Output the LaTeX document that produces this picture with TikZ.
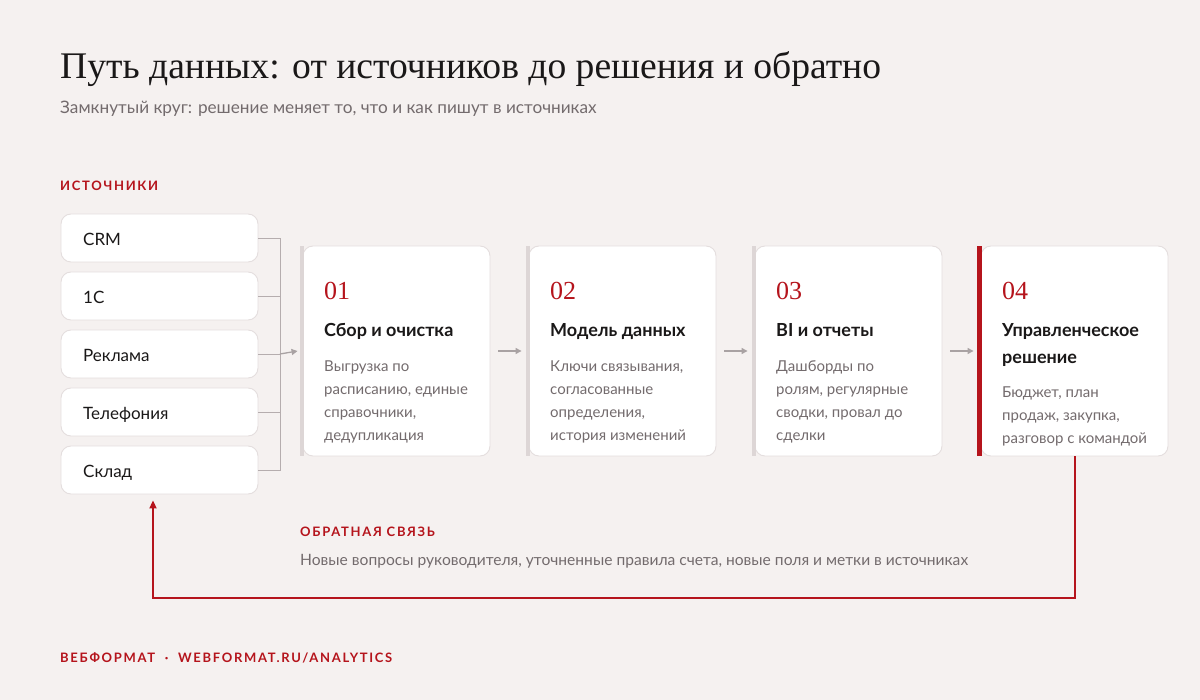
\documentclass[tikz,border=0pt]{standalone}
\usepackage{fontspec}
\setmainfont{Liberation Serif}
\setsansfont{Lato}
\newfontfamily\lato{Lato}
\newfontfamily\latosp[LetterSpace=13]{Lato}
\newfontfamily\serifd{Liberation Serif}
\usetikzlibrary{arrows.meta}
\definecolor{bg}{HTML}{F5F1F0}
\definecolor{accent}{HTML}{B5141C}
\definecolor{boxline}{HTML}{E4DEDE}
\definecolor{barcol}{HTML}{DDD6D6}
\definecolor{arrowgray}{HTML}{A9A2A3}
\definecolor{brkgray}{HTML}{B5ADAE}
\definecolor{txtgray}{HTML}{736B6D}
\definecolor{ink}{HTML}{1A1818}
\tikzset{
  srcbox/.style={draw=boxline, fill=white, rounded corners=10pt, line width=0.9pt, minimum width=197pt, minimum height=48pt, inner sep=0pt},
  cardbox/.style={draw=boxline, fill=white, rounded corners=10pt, line width=0.9pt, minimum width=187pt, minimum height=210pt, inner sep=0pt},
  srctext/.style={anchor=base west, inner sep=0pt, text=ink, font=\lato\fontsize{17}{20}\selectfont},
  numtext/.style={anchor=base west, inner sep=0pt, text=accent, font=\serifd\fontsize{26}{28}\selectfont},
  headtext/.style={anchor=base west, inner sep=0pt, text=ink, font=\lato\bfseries\fontsize{18}{27}\selectfont},
  desctext/.style={anchor=base west, inner sep=0pt, text=txtgray, font=\lato\fontsize{15}{23}\selectfont},
  labeltext/.style={anchor=base west, inner sep=0pt, text=accent, font=\latosp\bfseries\fontsize{13}{16}\selectfont},
  arr/.style={draw=arrowgray, line width=1.3pt, -{Triangle[length=6pt,width=6pt]}},
  brk/.style={draw=brkgray, line width=0.9pt},
  fb/.style={draw=accent, line width=2pt, -{Triangle[length=8pt,width=7pt]}},
}
\begin{document}
\begin{tikzpicture}[x=1pt,y=-1pt]
\fill[bg] (0,0) rectangle (1200,700);
\useasboundingbox (0,0) rectangle (1200,700);

% title
\node[anchor=base west, inner sep=0pt, text=ink, font=\serifd\fontsize{37.6}{42}\selectfont] (title) at (60,79) {Путь данных: от источников до решения и обратно};
\node[anchor=base west, inner sep=0pt, text=txtgray, font=\lato\fontsize{17.2}{20}\selectfont] (subtitle) at (60,114) {Замкнутый круг: решение меняет то, что и как пишут в источниках};

\node[labeltext] (srclabel) at (60,191) {ИСТОЧНИКИ};

% sources
\node[srcbox] (s1) at (159.5,238) {};
\node[srcbox] (s2) at (159.5,296) {};
\node[srcbox] (s3) at (159.5,354) {};
\node[srcbox] (s4) at (159.5,412) {};
\node[srcbox] (s5) at (159.5,470) {};
\node[srctext] (t1) at (83,246) {CRM};
\node[srctext] (t2) at (83,304) {1С};
\node[srctext] (t3) at (83,362) {Реклама};
\node[srctext] (t4) at (83,420) {Телефония};
\node[srctext] (t5) at (83,478) {Склад};

% bracket
\coordinate (hub) at (280,354);
\draw[brk] (s1.east) -| (hub);
\draw[brk] (s2.east) -| (hub);
\draw[brk] (s3.east) -- (hub);
\draw[brk] (s4.east) -| (hub);
\draw[brk] (s5.east) -| (hub);

% cards
\node[cardbox] (c1) at (396.5,351) {};
\node[cardbox] (c2) at (622.5,351) {};
\node[cardbox] (c3) at (848.5,351) {};
\node[cardbox] (c4) at (1074.5,351) {};
\fill[barcol] ([xshift=-3pt]c1.north west) rectangle ([xshift=1pt]c1.south west);
\fill[barcol] ([xshift=-3pt]c2.north west) rectangle ([xshift=1pt]c2.south west);
\fill[barcol] ([xshift=-3pt]c3.north west) rectangle ([xshift=1pt]c3.south west);
\fill[accent] ([xshift=-3.5pt]c4.north west) rectangle ([xshift=1pt]c4.south west);

\draw[arr] (hub) -- ([xshift=-5pt]c1.west);
\draw[arr] ([xshift=8pt]c1.east) -- ([xshift=-7pt]c2.west);
\draw[arr] ([xshift=8pt]c2.east) -- ([xshift=-7pt]c3.west);
\draw[arr] ([xshift=8pt]c3.east) -- ([xshift=-7pt]c4.west);

% card 1
\node[numtext] (n1) at (324,300) {01};
\node[headtext] (h1) at (324,337) {Сбор и очистка};
\node[desctext] (d1) at (324,372) {\parbox[t]{170pt}{\raggedright Выгрузка по\\расписанию, единые\\справочники,\\дедупликация}};
% card 2
\node[numtext] (n2) at (550,300) {02};
\node[headtext] (h2) at (550,337) {Модель данных};
\node[desctext] (d2) at (550,372) {\parbox[t]{170pt}{\raggedright Ключи связывания,\\согласованные\\определения,\\история изменений}};
% card 3
\node[numtext] (n3) at (776,300) {03};
\node[headtext] (h3) at (776,337) {BI и отчеты};
\node[desctext] (d3) at (776,372) {\parbox[t]{170pt}{\raggedright Дашборды по\\ролям, регулярные\\сводки, провал до\\сделки}};
% card 4
\node[numtext] (n4) at (1002,300) {04};
\node[headtext] (h4) at (1002,337) {\parbox[t]{170pt}{\raggedright Управленческое\\решение}};
\node[desctext] (d4) at (1002,398) {\parbox[t]{170pt}{\raggedright Бюджет, план\\продаж, закупка,\\разговор с командой}};

% feedback
\coordinate (fbcorner) at (153,598);
\draw[fb] (c4.south) |- (fbcorner) -- ([xshift=-6.5pt,yshift=-6pt]s5.south);
\node[labeltext] (fblabel) at (300,536) {ОБРАТНАЯ СВЯЗЬ};
\node[anchor=base west, inner sep=0pt, text=txtgray, font=\lato\fontsize{15.6}{20}\selectfont] (fbtext) at (300,565) {Новые вопросы руководителя, уточненные правила счета, новые поля и метки в источниках};

% footer
\node[labeltext] (footer) at (60,662) {ВЕБФОРМАТ \ · \ WEBFORMAT.RU/ANALYTICS};
\end{tikzpicture}
\end{document}
